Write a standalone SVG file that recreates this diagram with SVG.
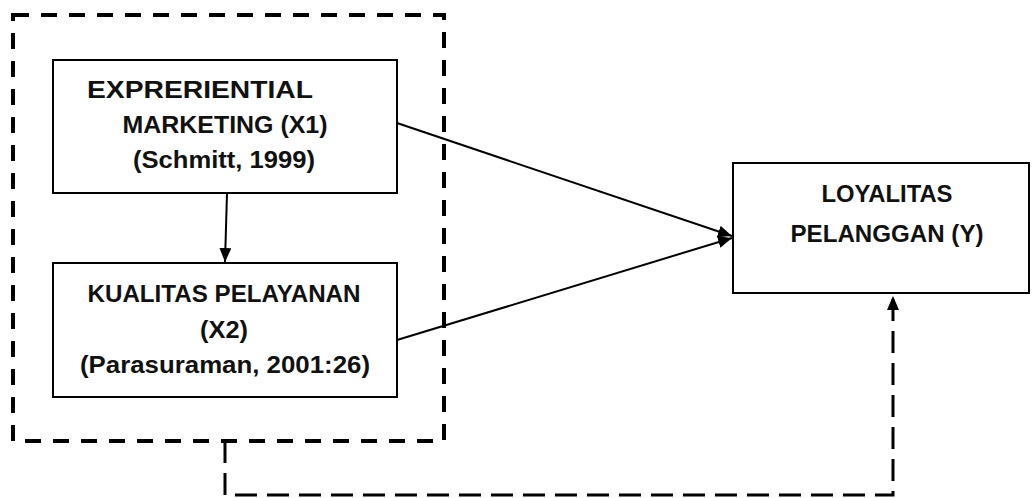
<svg xmlns="http://www.w3.org/2000/svg" width="1035" height="498" viewBox="0 0 1035 498">
  <style>
    .box { fill: #fff; stroke: #000; stroke-width: 2; }
    .lbl { font-family: "Liberation Sans", Arial, sans-serif; font-weight: bold; font-size: 24px; fill: #111; text-anchor: middle; }
    .edge { fill: none; stroke: #000; stroke-width: 2; }
    .frame { fill: none; stroke: #000; stroke-width: 4; stroke-dasharray: 16 12; }
    .dashed { fill: none; stroke: #000; stroke-width: 3; stroke-dasharray: 22 10; }
  </style>
  <defs>
    <marker id="arrow" viewBox="0 0 14 12" refX="14" refY="6" markerWidth="14" markerHeight="12" markerUnits="userSpaceOnUse" orient="auto">
      <path d="M0,0 L14,6 L0,12 Z" fill="#000"/>
    </marker>
  </defs>
  <rect width="1035" height="498" fill="#fff"/>

  <!-- dashed grouping frame around X1 and X2 -->
  <rect id="group-x" class="frame" x="13" y="15" width="431" height="426"/>

  <g id="connectors">
    <line class="edge" x1="227" y1="193" x2="225" y2="262" marker-end="url(#arrow)"/>
    <line class="edge" x1="397" y1="123" x2="732" y2="236" marker-end="url(#arrow)"/>
    <line class="edge" x1="397" y1="340" x2="732" y2="238" marker-end="url(#arrow)"/>
    <path class="dashed" d="M225,441 V495 H893 V296" marker-end="url(#arrow)"/>
  </g>

  <g id="node-x1">
    <rect class="box" x="53" y="60" width="344" height="133"/>
    <text class="lbl" x="200" y="98" textLength="226" lengthAdjust="spacingAndGlyphs">EXPRERIENTIAL</text>
    <text class="lbl" x="225" y="133" textLength="205" lengthAdjust="spacingAndGlyphs">MARKETING (X1)</text>
    <text class="lbl" x="224" y="168" textLength="182" lengthAdjust="spacingAndGlyphs">(Schmitt, 1999)</text>
  </g>

  <g id="node-x2">
    <rect class="box" x="53" y="263" width="344" height="134"/>
    <text class="lbl" x="224" y="302" textLength="273" lengthAdjust="spacingAndGlyphs">KUALITAS PELAYANAN</text>
    <text class="lbl" x="224" y="338" textLength="48" lengthAdjust="spacingAndGlyphs">(X2)</text>
    <text class="lbl" x="225" y="373" textLength="290" lengthAdjust="spacingAndGlyphs">(Parasuraman, 2001:26)</text>
  </g>

  <g id="node-y">
    <rect class="box" x="733" y="163" width="296" height="130"/>
    <text class="lbl" x="887" y="202" textLength="131" lengthAdjust="spacingAndGlyphs">LOYALITAS</text>
    <text class="lbl" x="887" y="242" textLength="193" lengthAdjust="spacingAndGlyphs">PELANGGAN (Y)</text>
  </g>
</svg>
